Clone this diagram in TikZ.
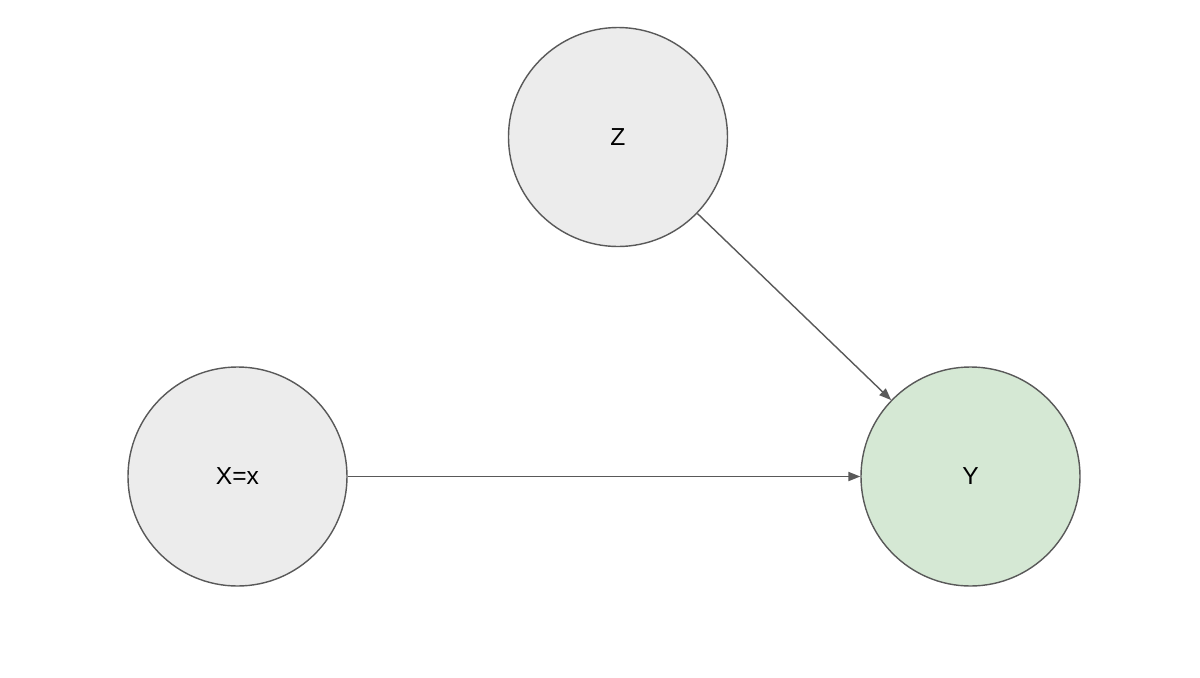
\documentclass[tikz,border=0pt]{standalone}
\usepackage{fontspec}
\setmainfont{Liberation Sans}
\usetikzlibrary{arrows.meta}
\definecolor{nodegray}{HTML}{ECECEC}
\definecolor{nodegreen}{HTML}{D5E8D4}
\definecolor{edgegray}{HTML}{595959}
\begin{document}
\begin{tikzpicture}[x=1cm,y=-1cm,
    var/.style={circle, draw=edgegray, line width=0.4pt, fill=nodegray,
        minimum size=2.19cm, inner sep=0pt, font=\fontsize{7}{8}\selectfont},
    causal/.style={draw=edgegray, line width=0.4pt,
        -{Triangle[length=3.4pt,width=2.6pt]}}]
    % Fix the canvas
    \useasboundingbox (0,0) rectangle (12,6.78);

    % Draw variables
    \node[var] (z) at (6.18,1.37) {Z};
    \node[var] (x) at (2.375,4.765) {X=x};
    \node[var, fill=nodegreen] (y) at (9.705,4.765) {Y};

    % Draw causal edges
    \draw[causal] (z) -- (y);
    \draw[causal] (x) -- (y);
\end{tikzpicture}
\end{document}
